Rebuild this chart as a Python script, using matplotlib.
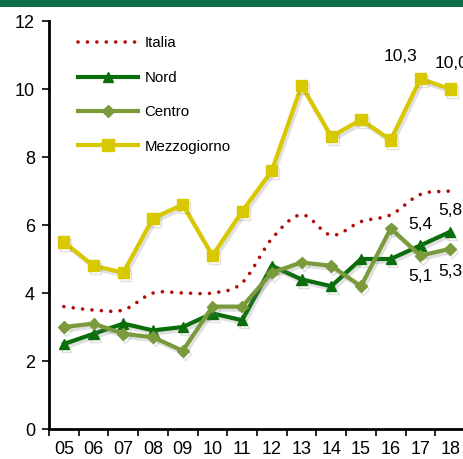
import numpy as np
import matplotlib
matplotlib.use("Agg")
import matplotlib.pyplot as plt
import matplotlib.patheffects as pe
from matplotlib.patches import Rectangle
from matplotlib.lines import Line2D

years = ["05", "06", "07", "08", "09", "10", "11", "12", "13", "14", "15", "16", "17", "18"]
italia = [3.6, 3.5, 3.5, 4.0, 4.0, 4.0, 4.3, 5.6, 6.3, 5.7, 6.1, 6.3, 6.9, 7.0]
nord = [2.5, 2.8, 3.1, 2.9, 3.0, 3.4, 3.2, 4.8, 4.4, 4.2, 5.0, 5.0, 5.4, 5.8]
centro = [3.0, 3.1, 2.8, 2.7, 2.3, 3.6, 3.6, 4.6, 4.9, 4.8, 4.2, 5.9, 5.1, 5.3]
mezzogiorno = [5.5, 4.8, 4.6, 6.2, 6.6, 5.1, 6.4, 7.6, 10.1, 8.6, 9.1, 8.5, 10.3, 10.0]
yticks = [0, 2, 4, 6, 8, 10, 12]

plt.rcParams['font.family'] = ['Liberation Sans', 'DejaVu Sans']

C_IT = '#b00d0d'
C_NO = '#0a6e0a'
C_CE = '#7a9a3c'
C_ME = '#d8c800'

fig = plt.figure(figsize=(4.63, 4.59), dpi=100)
fig.patches.append(Rectangle((0, 1 - 7 / 459), 1, 7 / 459, transform=fig.transFigure,
                             facecolor='#0b6e46', edgecolor='none', zorder=0))
ax = fig.add_axes([49 / 463, 30 / 459, 416 / 463, 408 / 459])

x = np.arange(len(years))


def catmull(xs, ys, n=20):
    xs = np.asarray(xs, float)
    ys = np.asarray(ys, float)
    px = np.concatenate([[2 * xs[0] - xs[1]], xs, [2 * xs[-1] - xs[-2]]])
    py = np.concatenate([[2 * ys[0] - ys[1]], ys, [2 * ys[-1] - ys[-2]]])
    ox, oy = [], []
    for i in range(1, len(px) - 2):
        t = np.linspace(0, 1, n, endpoint=False)
        for arr, out in ((px, ox), (py, oy)):
            p0, p1, p2, p3 = arr[i - 1], arr[i], arr[i + 1], arr[i + 2]
            out.extend(0.5 * ((2 * p1) + (-p0 + p2) * t + (2 * p0 - 5 * p1 + 4 * p2 - p3) * t ** 2
                              + (-p0 + 3 * p1 - 3 * p2 + p3) * t ** 3))
    ox.append(xs[-1])
    oy.append(ys[-1])
    return np.array(ox), np.array(oy)


shadow = [pe.SimpleLineShadow(offset=(1.5, -2.2), shadow_color='0.45', alpha=0.22), pe.Normal()]

sx, sy = catmull(x, italia)
ax.plot(sx, sy, color=C_IT, lw=2.6, linestyle=(0, (0.01, 2.6)), dash_capstyle='round',
        solid_capstyle='round', zorder=3)
ax.plot(x, nord, color=C_NO, lw=3, marker='^', ms=7.5, zorder=4, path_effects=shadow)
ax.plot(x, centro, color=C_CE, lw=3, marker='D', ms=6, zorder=4, path_effects=shadow)
ax.plot(x, mezzogiorno, color=C_ME, lw=3, marker='s', ms=8, zorder=4, path_effects=shadow)

handles = [
    Line2D([], [], color=C_IT, lw=2.6, linestyle=(0, (0.01, 2.6)), dash_capstyle='round'),
    Line2D([], [], color=C_NO, lw=3, marker='^', ms=7.5),
    Line2D([], [], color=C_CE, lw=3, marker='D', ms=6),
    Line2D([], [], color=C_ME, lw=3, marker='s', ms=8),
]
leg = ax.legend(handles, ['Italia', 'Nord', 'Centro', 'Mezzogiorno'], loc='upper left',
                bbox_to_anchor=(0.055, 0.977), frameon=False, fontsize=10.8,
                handlelength=4.0, handletextpad=0.45, labelspacing=1.36, borderaxespad=0)

fs = 12.5
ax.annotate('10,3', (12, 10.3), xytext=(-14, 11), textcoords='offset points', ha='center', va='bottom', fontsize=fs)
ax.annotate('10,0', (13, 10.0), xytext=(1, 13), textcoords='offset points', ha='center', va='bottom', fontsize=fs,
            annotation_clip=False)
ax.annotate('5,8', (13, 5.8), xytext=(0, 10), textcoords='offset points', ha='center', va='bottom', fontsize=fs)
ax.annotate('5,4', (12, 5.4), xytext=(0, 10), textcoords='offset points', ha='center', va='bottom', fontsize=fs)
ax.annotate('5,1', (12, 5.1), xytext=(0, -10), textcoords='offset points', ha='center', va='top', fontsize=fs)
ax.annotate('5,3', (13, 5.3), xytext=(0, -11), textcoords='offset points', ha='center', va='top', fontsize=fs)

ax.set_xlim(-0.5, len(years) - 0.5)
ax.set_ylim(0, 12)
ax.set_yticks(yticks)
ax.set_yticklabels([str(v) for v in yticks], fontsize=13)
ax.set_xticks(x)
ax.set_xticklabels(years, fontsize=13)
ax.set_xticks(np.arange(-0.5, len(years), 1), minor=True)
ax.tick_params(axis='x', which='major', length=0, pad=9)
ax.tick_params(axis='x', which='minor', length=5, width=1.2, direction='out')
ax.tick_params(axis='y', length=5, width=1.2, direction='out', pad=5)
for s in ['top', 'right']:
    ax.spines[s].set_visible(False)
ax.spines['left'].set_linewidth(2)
ax.spines['bottom'].set_linewidth(2)

fig.savefig('out.png', dpi=100)
